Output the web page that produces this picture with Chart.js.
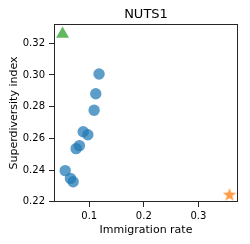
<!DOCTYPE html>
<html>
<head>
<meta charset="utf-8">
<script src="https://cdn.jsdelivr.net/npm/chart.js@4"></script>
<style>
  html, body { margin: 0; padding: 0; background: #fff; }
  #wrap { width: 250px; height: 244px; }
</style>
</head>
<body>
<div id="wrap"><canvas id="chart" width="250" height="244"></canvas></div>
<script>
// regions (circles)
const regionX = [0.118, 0.112, 0.109, 0.089, 0.0975, 0.082, 0.076, 0.056, 0.0656, 0.0706];
const regionY = [0.3006, 0.2882, 0.2777, 0.2642, 0.2623, 0.2554, 0.2535, 0.2396, 0.2347, 0.2326];
// highlighted points
const triangleX = [0.0512];
const triangleY = [0.3259];
const starX = [0.357];
const starY = [0.2242];

const xTicks = [0.1, 0.2, 0.3];
const yTicks = [0.22, 0.24, 0.26, 0.28, 0.30, 0.32];

const toPoints = (xs, ys) => xs.map((x, i) => ({ x: x, y: ys[i] }));

// filled star marker (Chart.js 'star' is only strokes)
function makeStar(size, color) {
  const c = document.createElement('canvas');
  c.width = size;
  c.height = size;
  const g = c.getContext('2d');
  const cx = size / 2, cy = size / 2;
  const outer = size / 2, inner = outer * 0.42;
  g.beginPath();
  for (let i = 0; i < 10; i++) {
    const r = i % 2 === 0 ? outer : inner;
    const a = -Math.PI / 2 + i * Math.PI / 5;
    const px = cx + Math.cos(a) * r;
    const py = cy + Math.sin(a) * r;
    if (i === 0) g.moveTo(px, py); else g.lineTo(px, py);
  }
  g.closePath();
  g.fillStyle = color;
  g.fill();
  return c;
}
const starImg = makeStar(14, 'rgba(255,127,14,0.75)');

const axisColor = '#262626';

const frame = {
  id: 'frame',
  afterDraw(chart) {
    const { ctx, chartArea: a } = chart;
    ctx.save();
    ctx.strokeStyle = axisColor;
    ctx.lineWidth = 1;
    ctx.strokeRect(Math.round(a.left) + 0.5, Math.round(a.top) + 0.5,
      Math.round(a.right - a.left) - 1, Math.round(a.bottom - a.top) - 1);
    ctx.restore();
  }
};

const ctx = document.getElementById('chart').getContext('2d');
new Chart(ctx, {
  type: 'scatter',
  data: {
    datasets: [
      {
        label: 'regions',
        data: toPoints(regionX, regionY),
        backgroundColor: 'rgba(31,119,180,0.72)',
        borderWidth: 0,
        pointRadius: 5.7,
        pointHoverRadius: 5.7
      },
      {
        label: 'triangle',
        data: toPoints(triangleX, triangleY),
        pointStyle: 'triangle',
        backgroundColor: 'rgba(44,160,44,0.75)',
        borderWidth: 0,
        pointRadius: 7.5,
        pointHoverRadius: 7.5
      },
      {
        label: 'star',
        data: toPoints(starX, starY),
        pointStyle: starImg,
        pointRadius: 7,
        pointHoverRadius: 7
      }
    ]
  },
  options: {
    responsive: false,
    animation: false,
    events: [],
    layout: { padding: { left: 0, right: 12, top: 0, bottom: 0 } },
    plugins: {
      legend: { display: false },
      tooltip: { enabled: false },
      title: {
        display: true,
        text: 'NUTS1',
        fullSize: false,
        color: '#000',
        font: { family: 'DejaVu Sans', size: 13, weight: 'normal' },
        padding: { top: 7, bottom: 1.4 }
      }
    },
    scales: {
      x: {
        type: 'linear',
        min: 0.0355,
        max: 0.3725,
        afterFit: s => { s.height = 42; },
        afterBuildTicks: s => { s.ticks = xTicks.map(v => ({ value: v })); },
        border: { display: false },
        grid: { drawOnChartArea: false, drawTicks: true, tickLength: 5, tickColor: axisColor },
        ticks: {
          color: '#000',
          padding: 3,
          maxRotation: 0,
          font: { family: 'DejaVu Sans', size: 10 },
          callback: v => v.toFixed(1)
        },
        title: {
          display: true,
          text: 'Immigration rate',
          color: '#000',
          font: { family: 'DejaVu Sans', size: 11 },
          padding: { top: 0, bottom: 7.4 }
        }
      },
      y: {
        type: 'linear',
        min: 0.2198,
        max: 0.3322,
        afterFit: s => { s.width = 54; },
        afterBuildTicks: s => { s.ticks = yTicks.map(v => ({ value: v })); },
        border: { display: false },
        grid: { drawOnChartArea: false, drawTicks: true, tickLength: 5, tickColor: axisColor },
        ticks: {
          color: '#000',
          padding: 4,
          font: { family: 'DejaVu Sans', size: 10 },
          callback: v => v.toFixed(2)
        },
        title: {
          display: true,
          text: 'Superdiversity index',
          color: '#000',
          font: { family: 'DejaVu Sans', size: 11 },
          padding: { top: 7.4, bottom: 0 }
        }
      }
    }
  },
  plugins: [frame]
});
</script>
</body>
</html>
